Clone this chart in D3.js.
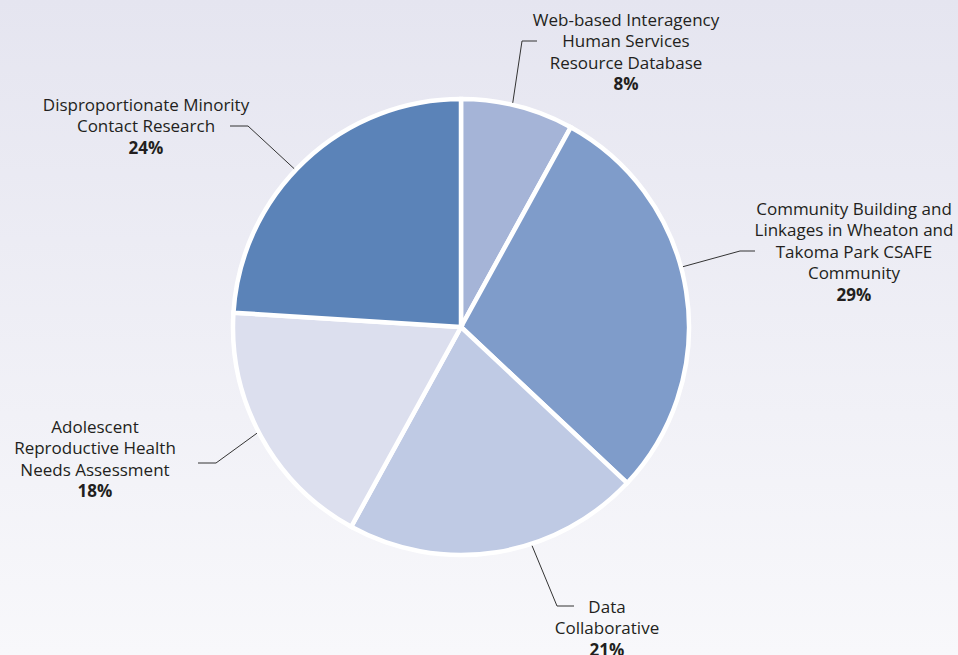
<!DOCTYPE html>
<html>
<head>
<meta charset="utf-8">
<script src="https://cdn.jsdelivr.net/npm/d3@7"></script>
<style>
  html, body { margin: 0; padding: 0; }
  body { width: 958px; height: 655px; overflow: hidden; }
  text { font-family: "Open Sans", "Noto Sans", sans-serif; fill: #231f20; }
</style>
</head>
<body>
<svg id="chart" width="958" height="655"></svg>
<script>
// Project funding shares
const categories = [
  "Web-based Interagency Human Services Resource Database",
  "Community Building and Linkages in Wheaton and Takoma Park CSAFE Community",
  "Data Collaborative",
  "Adolescent Reproductive Health Needs Assessment",
  "Disproportionate Minority Contact Research"
];
const values = [8, 29, 21, 18, 24];
const labelLines = [
  ["Web-based Interagency", "Human Services", "Resource Database"],
  ["Community Building and", "Linkages in Wheaton and", "Takoma Park CSAFE", "Community"],
  ["Data", "Collaborative"],
  ["Adolescent", "Reproductive Health", "Needs Assessment"],
  ["Disproportionate Minority", "Contact Research"]
];
const colors = ["#a5b4d7", "#7f9cca", "#bfcae4", "#dcdfee", "#5b83b8"];

// Callout layout: where the leader touches the rim (degrees clockwise from 12 o'clock),
// the elbow, the end of the horizontal tick and the label block centre/top.
const callouts = [
  { angle: 13,    elbow: [522, 41],  end: [537, 41],  cx: 626, top: 19 },
  { angle: 74.8,  elbow: [740, 251], end: [755, 251], cx: 854, top: 208 },
  { angle: 162,   elbow: [557, 606], end: [574, 606], cx: 607, top: 606 },
  { angle: 242.5, elbow: [216, 463], end: [198, 463], cx: 95,  top: 426 },
  { angle: 313.5, elbow: [248, 126], end: [230, 126], cx: 146, top: 104 }
];

const width = 958, height = 655;
const cx = 461, cy = 327, radius = 228;
const lineH = 21.4;

const svg = d3.select("#chart");

// Soft lavender background fading downward
const defs = svg.append("defs");
const grad = defs.append("linearGradient")
  .attr("id", "bg").attr("x1", 0).attr("y1", 0).attr("x2", 0).attr("y2", 1);
grad.append("stop").attr("offset", "0%").attr("stop-color", "#e5e5f0");
grad.append("stop").attr("offset", "100%").attr("stop-color", "#f8f8fb");
svg.append("rect").attr("width", width).attr("height", height).attr("fill", "url(#bg)");

const pie = d3.pie().sort(null).value(d => d);
const arcs = pie(values);
const arc = d3.arc().innerRadius(0).outerRadius(radius);

const g = svg.append("g").attr("transform", `translate(${cx},${cy})`);
g.selectAll("path.slice")
  .data(arcs)
  .join("path")
  .attr("class", "slice")
  .attr("d", arc)
  .attr("fill", (d, i) => colors[i])
  .attr("stroke", "#ffffff")
  .attr("stroke-width", 4.5)
  .attr("stroke-linejoin", "miter");

// Leader lines
const rim = radius + 2;
callouts.forEach((c, i) => {
  const a = c.angle * Math.PI / 180;
  const p0 = [cx + rim * Math.sin(a), cy - rim * Math.cos(a)];
  svg.append("polyline")
    .attr("points", [p0, c.elbow, c.end].map(p => p.join(",")).join(" "))
    .attr("fill", "none")
    .attr("stroke", "#333333")
    .attr("stroke-width", 1);
});

// Labels with bold percentage on the last line
callouts.forEach((c, i) => {
  const t = svg.append("text")
    .attr("text-anchor", "middle")
    .attr("font-size", 17)
    .attr("dominant-baseline", "central");
  const lines = labelLines[i];
  lines.forEach((ln, j) => {
    t.append("tspan").attr("x", c.cx).attr("y", c.top + j * lineH).text(ln);
  });
  t.append("tspan")
    .attr("x", c.cx)
    .attr("y", c.top + lines.length * lineH)
    .attr("font-weight", "bold")
    .text(values[i] + "%");
});
</script>
</body>
</html>
